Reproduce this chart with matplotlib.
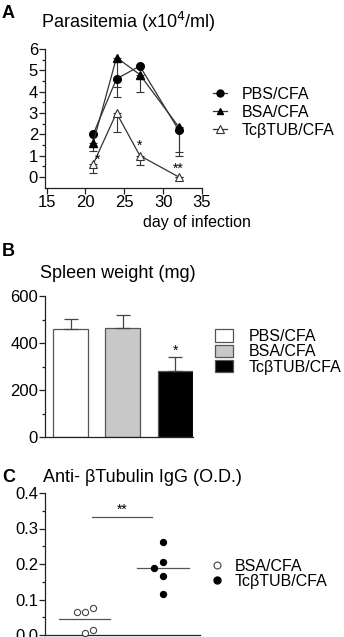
import numpy as np
import matplotlib
matplotlib.use("Agg")
import matplotlib.pyplot as plt
from matplotlib.patches import Patch
from matplotlib.lines import Line2D

plt.rcParams['font.family'] = ['Liberation Sans', 'DejaVu Sans']

# ---- data ----
days = [21, 24, 27, 32]
pbs = [2.0, 4.6, 5.2, 2.2]
pbs_err = [0.8, 0.85, 0.0, 1.2]
bsa = [1.6, 5.6, 4.8, 2.35]
bsa_err = [0.2, 1.4, 0.8, 1.2]
tub = [0.6, 3.0, 1.0, 0.0]
tub_err = [0.4, 0.9, 0.45, 0.0]

groups_b = ['PBS/CFA', 'BSA/CFA', 'TcβTUB/CFA']
spleen = [458, 463, 281]
spleen_err = [45, 56, 60]

bsa_od = [0.065, 0.064, 0.075, 0.007, 0.015]
bsa_jit = [-0.1, 0.0, 0.11, 0.0, 0.11]
tub_od = [0.188, 0.262, 0.207, 0.165, 0.115]
tub_jit = [-0.11, 0.0, 0.0, 0.0, 0.0]

W, H = 344, 637
fig = plt.figure(figsize=(W / 100, H / 100), dpi=100)


def ax_px(l, t, r, b):
    return fig.add_axes([l / W, 1 - b / H, (r - l) / W, (b - t) / H])


def fpx(x, y):
    return (x / W, 1 - y / H)


def style(ax):
    for s in ['top', 'right']:
        ax.spines[s].set_visible(False)
    for s in ['left', 'bottom']:
        ax.spines[s].set_linewidth(0.9)
        ax.spines[s].set_color('#222222')
    ax.tick_params(labelsize=12, width=0.9, length=4, color='#222222', pad=1)
    ax.tick_params(which='minor', width=0.9, length=2.5, color='#222222')


lc = '#333333'
ek = dict(ecolor=lc, elinewidth=0.8, capsize=3, capthick=0.8)
LEG = 11.5

# ---- panel A ----
axA = ax_px(45, 49, 202, 188)
style(axA)
z = [0] * 4
axA.errorbar(days, pbs, yerr=[pbs_err, z], color=lc, lw=0.9, marker='o', ms=5.5,
             mfc='black', mec='black', label='PBS/CFA', **ek)
axA.errorbar(days, bsa, yerr=[bsa_err, z], color=lc, lw=0.9, marker='^', ms=5.5,
             mfc='black', mec='black', label='BSA/CFA', **ek)
axA.errorbar(days, tub, yerr=[tub_err, z], color=lc, lw=0.9, marker='^', ms=6,
             mfc='white', mec=lc, mew=0.8, label='TcβTUB/CFA', **ek)
axA.set_xlim(14.8, 35)
axA.set_ylim(-0.52, 6)
axA.set_xticks([15, 20, 25, 30, 35])
axA.set_yticks(range(0, 7))
axA.set_yticks(np.arange(0.5, 6, 1.0), minor=True)
axA.text(21.6, 0.8, '*', fontsize=10, ha='center', va='center')
axA.text(26.9, 1.45, '*', fontsize=10, ha='center', va='center')
axA.text(31.9, 0.38, '**', fontsize=10, ha='center', va='center')
hA = [Line2D([0], [0], color=lc, lw=0.9, marker='o', ms=5, mfc='black', mec='black'),
      Line2D([0], [0], color=lc, lw=0.9, marker='^', ms=5, mfc='black', mec='black'),
      Line2D([0], [0], color=lc, lw=0.9, marker='^', ms=5.5, mfc='white', mec=lc, mew=0.8)]
fig.legend(hA, ['PBS/CFA', 'BSA/CFA', 'TcβTUB/CFA'], loc='upper left',
           bbox_to_anchor=fpx(213, 87), frameon=False, fontsize=LEG,
           handlelength=0.9, handletextpad=0.9, labelspacing=0.18,
           borderpad=0, borderaxespad=0)
fig.text(*fpx(2, 13), 'A', fontsize=13, fontweight='bold', va='center')
fig.text(*fpx(41, 22), 'Parasitemia (x10$^4$/ml)', fontsize=13, va='center')
fig.text(*fpx(143, 223), 'day of infection', fontsize=11.5, va='center')

# ---- panel B ----
axB = ax_px(45, 296, 193, 437)
style(axB)
xb = np.arange(len(groups_b))
fills = ['white', '#c8c8c8', 'black']
axB.bar(xb, spleen, width=0.667, color=fills, edgecolor='#555555', lw=0.9,
        yerr=[[0] * 3, spleen_err], error_kw=dict(ecolor='#444444', elinewidth=0.9,
                                                 capsize=5, capthick=0.9))
axB.set_xlim(-0.486, 2.334)
axB.set_ylim(0, 600)
axB.set_xticks([])
axB.set_yticks([0, 200, 400, 600])
axB.set_yticks([100, 300, 500], minor=True)
axB.text(2, spleen[2] + spleen_err[2] + 25, '*', fontsize=10, ha='center', va='center')
hB = [Patch(facecolor=f, edgecolor='#555555', lw=0.9) for f in fills]
fig.legend(hB, groups_b, loc='upper left', bbox_to_anchor=fpx(215, 329),
           frameon=False, fontsize=LEG, handlelength=1.1, handleheight=0.8,
           handletextpad=1.0, labelspacing=0.02, borderpad=0, borderaxespad=0)
fig.text(*fpx(2, 252), 'B', fontsize=13, fontweight='bold', va='center')
fig.text(*fpx(40, 273), 'Spleen weight (mg)', fontsize=13, va='center')

# ---- panel C ----
axC = ax_px(45, 493, 200, 635)
style(axC)
axC.scatter(0 + np.array(bsa_jit), bsa_od, s=20, facecolor='white',
            edgecolor='#444444', lw=0.8, clip_on=False, zorder=3)
axC.scatter(1 + np.array(tub_jit), tub_od, s=20, facecolor='black',
            edgecolor='black', lw=0.8, clip_on=False, zorder=3)
axC.plot([-0.32, 0.32], [np.mean(bsa_od)] * 2, color='#555555', lw=0.9)
axC.plot([0.67, 1.33], [np.mean(tub_od)] * 2, color='#555555', lw=0.9)
axC.plot([0.095, 0.86], [0.333, 0.333], color='#555555', lw=0.9)
axC.text(0.48, 0.352, '**', fontsize=10, ha='center', va='center')
axC.set_xlim(-0.503, 1.47)
axC.set_ylim(0, 0.4)
axC.set_xticks([])
axC.set_yticks([0, 0.1, 0.2, 0.3, 0.4])
axC.set_yticklabels(['0.0', '0.1', '0.2', '0.3', '0.4'])
axC.set_yticks([0.05, 0.15, 0.25, 0.35], minor=True)
hC = [Line2D([0], [0], ls='none', marker='o', ms=5, mfc='white', mec='#444444', mew=0.8),
      Line2D([0], [0], ls='none', marker='o', ms=5, mfc='black', mec='black')]
fig.legend(hC, ['BSA/CFA', 'TcβTUB/CFA'], loc='upper left',
           bbox_to_anchor=fpx(211, 559), frameon=False, fontsize=LEG,
           handlelength=0.8, handletextpad=0.7, labelspacing=0.0,
           borderpad=0, borderaxespad=0)
fig.text(*fpx(2, 477), 'C', fontsize=13, fontweight='bold', va='center')
fig.text(*fpx(43, 477), 'Anti- βTubulin IgG (O.D.)', fontsize=13, va='center')

fig.savefig('out.png', dpi=100)
